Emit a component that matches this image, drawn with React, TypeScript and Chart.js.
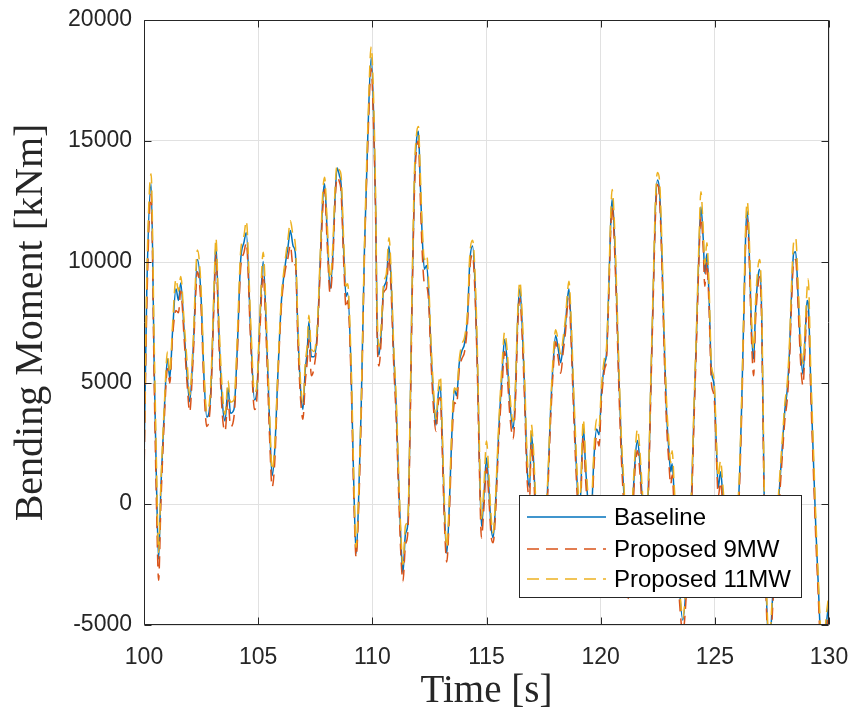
import React, { useEffect, useRef } from "react";
import { Chart, registerables } from "chart.js";

Chart.register(...registerables);

// Time [s]
const times = [
  100.0, 100.12, 100.31, 100.45, 100.55, 100.64, 100.74, 100.89, 101.03, 101.13,
  101.25, 101.4, 101.51, 101.61, 101.76, 101.9, 102.0, 102.15, 102.34, 102.49,
  102.63, 102.75, 102.92, 103.07, 103.15, 103.28, 103.43, 103.55, 103.68, 103.79,
  103.94, 104.08, 104.23, 104.38, 104.48, 104.67, 104.84, 104.93, 105.07, 105.22,
  105.36, 105.51, 105.61, 105.73, 105.87, 106.02, 106.16, 106.31, 106.41, 106.53,
  106.63, 106.74, 106.86, 106.96, 107.06, 107.15, 107.22, 107.33, 107.44, 107.59,
  107.73, 107.83, 107.91, 108.02, 108.15, 108.27, 108.37, 108.46, 108.56, 108.63,
  108.75, 108.85, 108.92, 109.07, 109.19, 109.29, 109.39, 109.51, 109.65, 109.8,
  109.95, 110.06, 110.15, 110.2, 110.29, 110.39, 110.49, 110.61, 110.73, 110.83,
  110.93, 111.05, 111.16, 111.26, 111.34, 111.45, 111.56, 111.66, 111.74, 111.85,
  111.95, 112.02, 112.09, 112.18, 112.28, 112.38, 112.47, 112.57, 112.69, 112.79,
  112.89, 112.98, 113.05, 113.15, 113.26, 113.37, 113.49, 113.6, 113.69, 113.81,
  113.92, 114.04, 114.17, 114.27, 114.39, 114.5, 114.61, 114.68, 114.78, 114.89,
  115.0, 115.1, 115.2, 115.29, 115.39, 115.54, 115.69, 115.79, 115.91, 116.02,
  116.17, 116.27, 116.37, 116.46, 116.56, 116.67, 116.78, 116.89, 116.96, 117.05,
  117.15, 117.3, 117.5, 117.66, 117.81, 117.92, 118.03, 118.13, 118.25, 118.36,
  118.46, 118.54, 118.61, 118.71, 118.8, 118.9, 118.98, 119.08, 119.24, 119.34,
  119.42, 119.55, 119.71, 119.82, 119.93, 120.03, 120.18, 120.25, 120.35, 120.44,
  120.5, 120.58, 120.69, 120.79, 120.91, 121.02, 121.2, 121.42, 121.52, 121.61,
  121.71, 121.81, 121.95, 122.08, 122.19, 122.3, 122.4, 122.49, 122.59, 122.69,
  122.78, 122.88, 122.98, 123.07, 123.13, 123.22, 123.4, 123.6, 123.8, 123.98,
  124.09, 124.2, 124.3, 124.39, 124.49, 124.56, 124.65, 124.74, 124.85, 124.97,
  125.07, 125.15, 125.25, 125.35, 125.65, 126.05, 126.17, 126.27, 126.35, 126.42,
  126.49, 126.61, 126.7, 126.78, 126.89, 126.96, 127.05, 127.11, 127.16, 127.25,
  127.38, 127.55, 127.81, 127.95, 128.07, 128.17, 128.27, 128.36, 128.45, 128.54,
  128.64, 128.76, 128.86, 128.95, 129.04, 129.09, 129.2, 129.3, 129.42, 129.53,
  129.63, 129.75, 129.88, 130.0,
];

// Bending moment [kNm] - Baseline
const baseline = [
  1500, 8730, 13230, 5520, 690, -2280, 690, 3900, 6000, 5190,
  7120, 8890, 8410, 9130, 7120, 5190, 4230, 6320, 10100, 8730,
  5190, 3590, 4550, 8730, 10740, 7120, 4230, 3430, 4790, 3750,
  3910, 6320, 10020, 10820, 11220, 7120, 4300, 4550, 7440, 10020,
  7120, 3100, 1170, 2300, 5520, 8410, 9700, 10660, 11300, 10660,
  10340, 7120, 4710, 3910, 5520, 6320, 7530, 6080, 6080, 7120,
  10340, 12590, 13230, 11300, 8890, 10340, 12750, 13880, 13560, 13230,
  10340, 8570, 8730, 5520, 690, -2040, -110, 3910, 10340, 15160,
  18450, 15970, 11950, 7930, 6160, 7120, 8890, 9210, 10660, 9050,
  6320, 3910, 690, -1720, -2850, -1240, -760, 3910, 8730, 13560,
  15160, 15400, 13560, 11140, 9700, 9860, 8730, 6320, 4230, 3260,
  4550, 4870, 3100, -110, -2040, -110, 3100, 4710, 4470, 5840,
  6320, 6640, 7770, 10020, 10660, 9050, 5520, 2300, -920, 400,
  1900, 690, -920, -1400, -110, 3100, 5520, 6800, 5840, 4230,
  3100, 4710, 7770, 8890, 7440, 4710, 1500, 690, 2900, 1980,
  -110, -2200, -1200, 370, 3910, 5840, 6960, 6480, 5840, 6640,
  7440, 8410, 8890, 7120, 4710, 2300, 690, -400, 3200, 1500,
  370, -1000, 1980, 3100, 2860, 4500, 5840, 6160, 8730, 11630,
  12590, 11630, 8730, 5520, 2300, 370, -3300, 370, 1980, 2620,
  1820, 370, -1500, 370, 4710, 8730, 12270, 13390, 12750, 10020,
  6800, 3910, 2300, 1330, 1660, 370, -2800, -4800, -2500, 370,
  3910, 7120, 10340, 12270, 10980, 9540, 10340, 8730, 5520, 4870,
  2300, 690, 1330, 370, -3000, 370, 3910, 7930, 11140, 12110,
  10980, 7120, 6000, 7930, 9380, 9700, 7930, 3910, 370, -3500,
  -6000, -3500, 370, 2300, 3910, 4710, 6320, 8730, 10340, 10420,
  8730, 6320, 5360, 6800, 8410, 8300, 5030, 2300, -920, -3330,
  -5500, -6500, -5000, -4000,
];

// Bending moment [kNm] - Proposed 9MW
const proposed9MW = [
  1000, 8000, 12800, 4800, -200, -3150, 0, 3500, 5600, 5000,
  6900, 8000, 7900, 8800, 6800, 4800, 3800, 6000, 9600, 8300,
  4700, 3200, 4300, 8400, 10300, 6700, 3700, 3000, 4300, 3200,
  3600, 6000, 9700, 10400, 10800, 6700, 3900, 4200, 7000, 9500,
  6600, 2500, 700, 1800, 5300, 8200, 9500, 10200, 10700, 9800,
  9900, 6700, 4300, 3500, 5000, 5900, 6800, 5300, 5600, 6900,
  10000, 12200, 13000, 10800, 8700, 10000, 12500, 13500, 13300, 12900,
  9900, 8100, 8400, 5100, 200, -2200, -500, 3500, 10000, 14800,
  18000, 15400, 11500, 7400, 5700, 6800, 8700, 8900, 10200, 8600,
  5900, 3400, 200, -2300, -3200, -1700, -1100, 3400, 8200, 13100,
  14800, 15000, 13000, 10500, 9100, 9000, 8300, 5900, 3800, 3000,
  4200, 4400, 2600, -600, -2400, -500, 2700, 4200, 4100, 5600,
  6000, 6300, 7500, 9700, 10300, 8600, 5000, 1800, -1400, -100,
  1500, 300, -1300, -1600, -500, 2700, 5000, 6300, 5300, 3700,
  2700, 4300, 7400, 8500, 7000, 4200, 1000, 300, 2500, 1500,
  -600, -2700, -1600, 0, 3500, 5500, 6700, 6100, 5400, 6300,
  7100, 8100, 8500, 6600, 4200, 1800, 200, -900, 2800, 1000,
  -100, -1500, 1600, 2800, 2400, 4200, 5600, 5900, 8400, 11300,
  12300, 11200, 8300, 5000, 1800, -200, -3900, -100, 1600, 2200,
  1400, -100, -2000, 0, 4300, 8400, 11900, 13200, 12400, 9600,
  6300, 3400, 1800, 800, 1200, -200, -3300, -5300, -3000, -100,
  3500, 6800, 10000, 11900, 10600, 9000, 10000, 8300, 5000, 4400,
  1900, 300, 900, -100, -3500, 0, 3500, 7600, 10800, 11800,
  10600, 6700, 5300, 7500, 9000, 9400, 7500, 3400, -200, -4000,
  -6500, -4000, -100, 1900, 3500, 4300, 5900, 8300, 10000, 10100,
  8300, 5800, 4900, 6400, 8000, 7900, 4600, 1800, -1400, -3800,
  -6000, -7000, -5500, -4300,
];

// Bending moment [kNm] - Proposed 11MW
const proposed11MW = [
  1800, 9300, 13650, 6500, 1500, -2000, 900, 4100, 6300, 5400,
  7400, 9300, 8800, 9400, 7500, 5700, 4500, 6700, 10500, 9100,
  5500, 3800, 4900, 9100, 11000, 7600, 4700, 3700, 5100, 4200,
  4300, 6800, 10400, 11100, 11700, 7600, 4600, 4800, 7700, 10400,
  7600, 3500, 1400, 2500, 5700, 8600, 9900, 11000, 11700, 11100,
  10700, 7500, 5000, 4200, 5800, 6600, 7800, 6400, 6300, 7400,
  10600, 12900, 13500, 11700, 9300, 10700, 13100, 14000, 13800, 13600,
  10800, 9000, 9100, 5900, 1100, -1800, 200, 4100, 10500, 15500,
  18900, 16600, 12400, 8500, 6500, 7400, 9100, 9500, 11000, 9500,
  6700, 4300, 1100, -1400, -2500, -900, -500, 4200, 9000, 13900,
  15400, 15600, 14000, 11600, 10100, 10300, 9100, 6700, 4600, 3500,
  4800, 5300, 3500, 300, -1800, 200, 3400, 4800, 4700, 6000,
  6600, 6900, 8000, 10300, 10900, 9500, 6000, 2800, -600, 800,
  2600, 1300, -500, -1200, 200, 3400, 5900, 7100, 6300, 4600,
  3400, 5000, 8000, 9200, 7900, 5200, 2000, 1100, 3300, 2400,
  300, -1900, -900, 600, 4100, 6100, 7200, 6800, 6200, 6900,
  7700, 8700, 9200, 7600, 5200, 2800, 1100, -100, 3500, 1900,
  700, -700, 2300, 3500, 3200, 4800, 6100, 6400, 9000, 11900,
  13000, 12100, 9200, 6000, 2700, 800, -3000, 700, 2300, 3100,
  2300, 800, -1200, 700, 5000, 9000, 12600, 13700, 13200, 10500,
  7300, 4400, 2700, 1700, 2200, 800, -2500, -4700, -2200, 700,
  4200, 7400, 10700, 12900, 11400, 9900, 10800, 9200, 5800, 5100,
  2700, 1100, 1800, 800, -2700, 700, 4200, 8200, 11500, 12500,
  11500, 7600, 6400, 8300, 9800, 10100, 8400, 4400, 900, -3100,
  -5700, -3200, 700, 2600, 4200, 5000, 6700, 9100, 10800, 11000,
  9300, 6800, 5800, 7200, 8900, 9300, 5600, 2800, -500, -3000,
  -5200, -6200, -4600, -3700,
];

const seriesNames = ["Baseline", "Proposed 9MW", "Proposed 11MW"];
const seriesColors = ["#0072BD", "#D95319", "#EDB120"];
const xTicks = [100, 105, 110, 115, 120, 125, 130];
const yTicks = [-5000, 0, 5000, 10000, 15000, 20000];

const AXIS_COLOR = "#262626";

const framePlugin = {
  id: "matlabFrame",
  afterDatasetsDraw(chart: any) {
    const { ctx, chartArea } = chart;
    const { left, right, top, bottom } = chartArea;
    const xs = chart.scales.x;
    const ys = chart.scales.y;
    ctx.save();
    ctx.strokeStyle = AXIS_COLOR;
    ctx.lineWidth = 1;
    ctx.setLineDash([]);
    const L = Math.round(left) + 0.5;
    const R = Math.round(right) - 0.5;
    const T = Math.round(top) + 0.5;
    const B = Math.round(bottom) - 0.5;
    ctx.beginPath();
    ctx.rect(L, T, R - L, B - T);
    ctx.stroke();
    const tl = 7;
    ctx.beginPath();
    xTicks.forEach((v) => {
      const px = Math.round(xs.getPixelForValue(v)) + 0.5;
      ctx.moveTo(px, B);
      ctx.lineTo(px, B - tl);
      ctx.moveTo(px, T);
      ctx.lineTo(px, T + tl);
    });
    yTicks.forEach((v) => {
      const py = Math.round(ys.getPixelForValue(v)) + 0.5;
      ctx.moveTo(L, py);
      ctx.lineTo(L + tl, py);
      ctx.moveTo(R, py);
      ctx.lineTo(R - tl, py);
    });
    ctx.stroke();

    // Legend box (inside the axes, lower right)
    const bx = 519.5;
    const by = 495.5;
    const bw = 282;
    const bh = 102;
    ctx.fillStyle = "#ffffff";
    ctx.fillRect(bx, by, bw, bh);
    ctx.strokeStyle = AXIS_COLOR;
    ctx.lineWidth = 1;
    ctx.strokeRect(bx, by, bw, bh);
    const rows = [517, 549, 579];
    ctx.font = '24px "Liberation Sans", Arial, sans-serif';
    ctx.textBaseline = "middle";
    ctx.textAlign = "left";
    seriesNames.forEach((name, i) => {
      ctx.beginPath();
      ctx.strokeStyle = seriesColors[i];
      ctx.lineWidth = 1.5;
      ctx.setLineDash(i === 0 ? [] : [12, 7]);
      ctx.moveTo(527, rows[i]);
      ctx.lineTo(606, rows[i]);
      ctx.stroke();
      ctx.setLineDash([]);
      ctx.fillStyle = "#000000";
      ctx.fillText(name, 614, rows[i] + 1);
    });
    ctx.restore();
  },
};

export default function App() {
  const canvasRef = useRef<HTMLCanvasElement | null>(null);

  useEffect(() => {
    const canvas = canvasRef.current;
    if (!canvas) return;
    const toPoints = (vals: number[]) => times.map((t, i) => ({ x: t, y: vals[i] }));
    const allSeries = [baseline, proposed9MW, proposed11MW];
    const chart = new Chart(canvas, {
      type: "line",
      data: {
        datasets: allSeries.map((vals, i) => ({
          label: seriesNames[i],
          data: toPoints(vals),
          borderColor: seriesColors[i],
          backgroundColor: seriesColors[i],
          borderWidth: 1.5,
          borderDash: i === 0 ? [] : [12, 7],
          pointRadius: 0,
          cubicInterpolationMode: "monotone" as const,
          fill: false,
          order: 2 - i,
        })),
      },
      options: {
        responsive: false,
        animation: false,
        events: [],
        layout: { padding: { left: 0, right: 26, top: 20, bottom: 0 } },
        plugins: {
          legend: { display: false },
          tooltip: { enabled: false },
        },
        scales: {
          x: {
            type: "linear",
            min: 100,
            max: 130,
            afterBuildTicks: (scale: any) => {
              scale.ticks = xTicks.map((v) => ({ value: v }));
            },
            afterFit: (scale: any) => {
              scale.height = 92;
              scale.paddingLeft = 0;
              scale.paddingRight = 0;
            },
            ticks: {
              color: AXIS_COLOR,
              font: { family: '"Liberation Sans", Arial, sans-serif', size: 23 },
              padding: 19,
              maxRotation: 0,
              callback: (v: any) => String(v),
            },
            grid: { color: "#e1e1e1", lineWidth: 1, drawTicks: false },
            border: { display: false },
            title: {
              display: true,
              text: "Time [s]",
              color: AXIS_COLOR,
              font: { family: '"Liberation Serif", "Times New Roman", serif', size: 39 },
              padding: { top: 0, bottom: 2 },
            },
          },
          y: {
            type: "linear",
            min: -5000,
            max: 20000,
            afterBuildTicks: (scale: any) => {
              scale.ticks = yTicks.map((v) => ({ value: v }));
            },
            afterFit: (scale: any) => {
              scale.width = 144;
              scale.paddingTop = 0;
              scale.paddingBottom = 0;
            },
            ticks: {
              color: AXIS_COLOR,
              font: { family: '"Liberation Sans", Arial, sans-serif', size: 23 },
              padding: 12,
              callback: (v: any) => String(v),
            },
            grid: { color: "#e1e1e1", lineWidth: 1, drawTicks: false },
            border: { display: false },
            title: {
              display: true,
              text: "Bending Moment [kNm]",
              color: AXIS_COLOR,
              font: { family: '"Liberation Serif", "Times New Roman", serif', size: 40 },
              padding: { top: 7, bottom: 0 },
            },
          },
        },
      },
      plugins: [framePlugin],
    });
    return () => chart.destroy();
  }, []);

  return (
    <div style={{ position: "absolute", left: 0, top: 0, width: 855, height: 717, background: "#ffffff" }}>
      <canvas ref={canvasRef} width={855} height={717} style={{ width: 855, height: 717, display: "block" }} />
    </div>
  );
}
